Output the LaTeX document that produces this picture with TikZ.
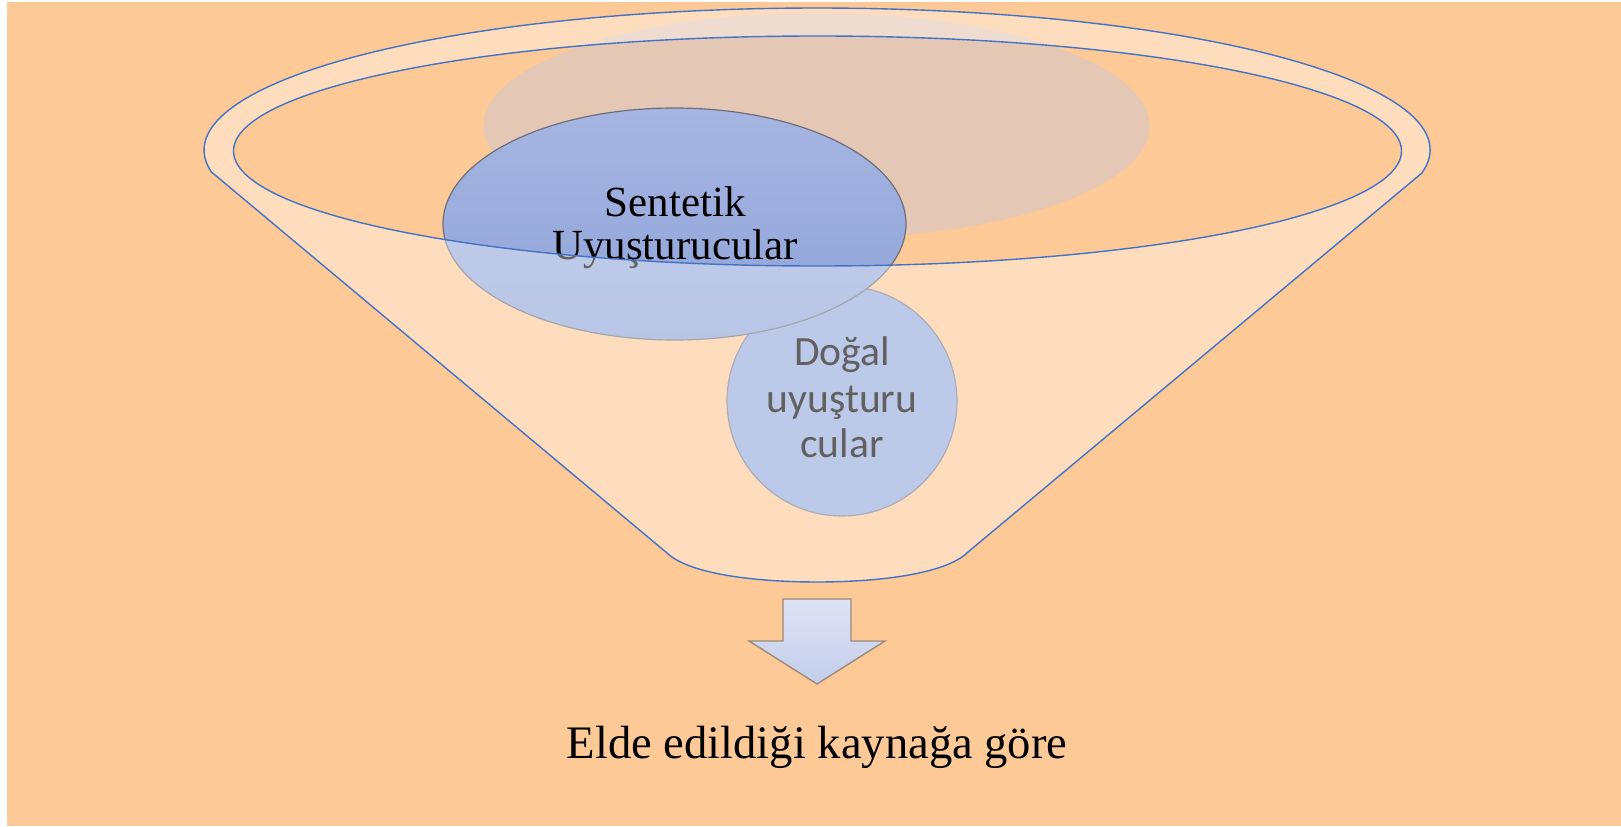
\documentclass[tikz,border=0pt]{standalone}
\usepackage{fontspec}
\setmainfont{Liberation Serif}
\newfontfamily\calibrifont{Carlito}
\usetikzlibrary{shapes.geometric}
\definecolor{bg}{HTML}{FCC997}
\definecolor{beigeell}{HTML}{E4C8B5}
\definecolor{funnelblue}{HTML}{4472C4}
\definecolor{blueTop}{HTML}{A6B5E2}
\definecolor{blueBot}{HTML}{8FA3D8}
\definecolor{blueCirc}{HTML}{95A8DC}
\definecolor{ellline}{HTML}{6E6E78}
\definecolor{circline}{HTML}{7C7C8C}
\definecolor{arrTop}{HTML}{DEE3F5}
\definecolor{arrBot}{HTML}{C3CDEB}
\definecolor{arrLine}{HTML}{9C8A76}
\tikzset{
  rimline/.style={draw=funnelblue, line width=0.7pt},
  serifbig/.style={font=\fontsize{21.5}{25}\selectfont, text=black, inner sep=0pt},
  sanslabel/.style={font=\calibrifont\fontsize{20.8}{25}\selectfont, text=black, inner sep=0pt},
  captionfont/.style={font=\fontsize{23.3}{28}\selectfont, text=black, inner sep=0pt},
}
\begin{document}
\begin{tikzpicture}[x=0.5pt,y=0.5pt]
\useasboundingbox (0,0) rectangle (1621,826);
\fill[bg] (7,0) rectangle (1621,824);

% beige back ellipse
\fill[beigeell] (816.5,700) ellipse [x radius=166.5pt, y radius=56.5pt];

% natural drugs circle
\node[circle, minimum size=115pt, inner sep=0pt, fill=blueCirc, draw=circline, line width=0.6pt] (dogal) at (842,425) {};
\node[sanslabel, anchor=base] (dogal1) at (842,461) {Doğal};
\node[sanslabel, anchor=base] (dogal2) at (842,414) {uyuşturu};
\node[sanslabel, anchor=base] (dogal3) at (842,369) {cular};

% synthetic drugs ellipse
\node[ellipse, minimum width=231.5pt, minimum height=116pt, inner sep=0pt,
      top color=blueTop, bottom color=blueBot, draw=ellline, line width=0.6pt] (sent) at (674.5,602) {};
\node[serifbig, anchor=base] (sent1) at (675,609) {Sentetik};
\node[serifbig, anchor=base] (sent2) at (675,566) {Uyuşturucular};

% funnel front (translucent white)
\fill[white, fill opacity=0.38, even odd rule]
  (1421.9,653) arc[start angle=-9.32, end angle=188.91, x radius=306.5pt, y radius=71pt]
  -- (667,273) .. controls (690,251) and (760,244) .. (817,244)
  .. controls (874,244) and (945,251) .. (968,274) -- cycle
  (817.5,675) ellipse [x radius=292pt, y radius=57.5pt];

% funnel outlines
\draw[rimline]
  (1421.9,653) arc[start angle=-9.32, end angle=188.91, x radius=306.5pt, y radius=71pt]
  -- (667,273) .. controls (690,251) and (760,244) .. (817,244)
  .. controls (874,244) and (945,251) .. (968,274) -- cycle;
\draw[rimline] (817.5,675) ellipse [x radius=292pt, y radius=57.5pt];

% down arrow
\draw[top color=arrTop, bottom color=arrBot, draw=arrLine, line width=0.7pt, line join=miter]
  (783,227) -- (851,227) -- (851,185) -- (885,185) -- (817,142) -- (749,185) -- (783,185) -- cycle;

% caption
\node[captionfont, anchor=base] (caption) at (817,68) {Elde edildiği kaynağa göre};
\end{tikzpicture}
\end{document}
